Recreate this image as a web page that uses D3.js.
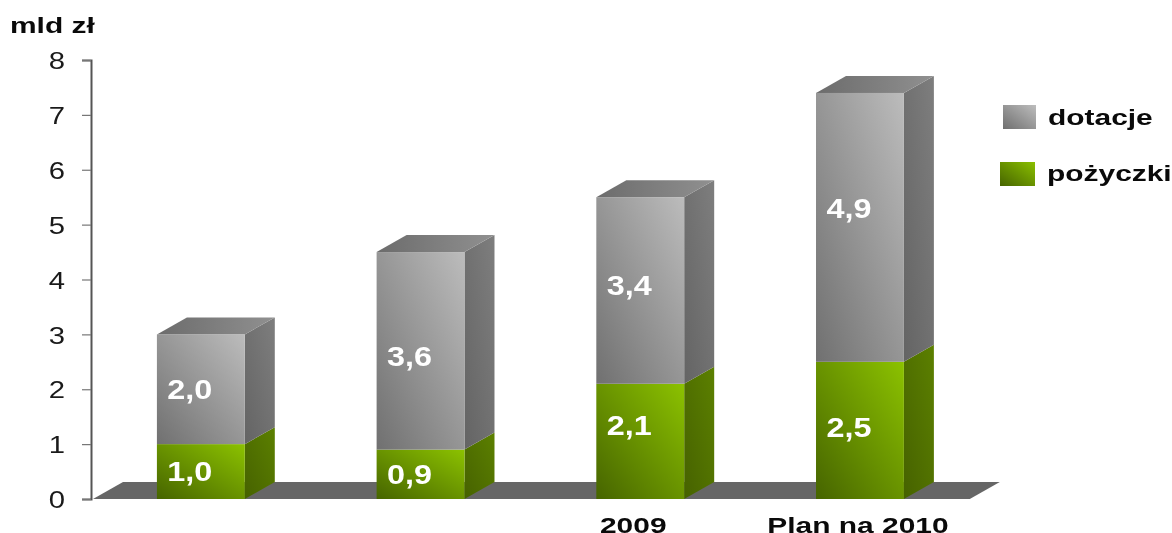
<!DOCTYPE html>
<html><head><meta charset="utf-8">
<script src="https://cdn.jsdelivr.net/npm/d3@7/dist/d3.min.js"></script>
<style>html,body{margin:0;padding:0;background:#fff}svg{display:block;filter:blur(.55px)}text{font-family:"Liberation Sans",Arial,sans-serif}</style>
</head><body><svg id="c" width="1172" height="533"></svg>
<script>
const categories = ["", " ", "2009", "Plan na 2010"];
const pozyczki = [1.0, 0.9, 2.1, 2.5];
const dotacje = [2.0, 3.6, 3.4, 4.9];
const pozyczkiLabels = ["1,0", "0,9", "2,1", "2,5"];
const dotacjeLabels = ["2,0", "3,6", "3,4", "4,9"];
const stackTotals = [3.0, 4.5, 5.5, 7.4];
const yTicks = [0, 1, 2, 3, 4, 5, 6, 7, 8];
const seriesNames = ["dotacje", "pożyczki"];
const unitLabel = "mld zł";

// layout only
const pozNudge = [0.0, 0.0, 0.3, 0.05];
const dotNudge = [0.0, -0.09, 0.09, 0.34];
const dx = 30, dy = 17;

const svg = d3.select("#c");
const x = d3.scaleBand().domain(categories).range([91, 969.8]).paddingInner(0.6).paddingOuter(0.3);
const y = d3.scaleLinear().domain([0, 8]).range([499, 60]);
const defs = svg.append("defs");
function grad(id, c0, c1, x1=0, y1=1, x2=1, y2=0) {
  const g = defs.append("linearGradient").attr("id", id).attr("x1", x1).attr("y1", y1).attr("x2", x2).attr("y2", y2);
  g.append("stop").attr("offset", 0).attr("stop-color", c0);
  g.append("stop").attr("offset", 1).attr("stop-color", c1);
}
grad("gf", "#707070", "#bcbcbc");
grad("gs", "#646464", "#7e7e7e");
grad("gt", "#6c6c6c", "#909090", 0, 0, 1, 0);
grad("pf", "#466400", "#8cc200");
grad("ps", "#466200", "#5c8000");
grad("lg", "#6f6f6f", "#bdbdbd");
grad("lp", "#466400", "#8abf00");

const line = d3.line();
// floor
const x0 = x.range()[0] + 2, x1 = x.range()[1];
svg.append("path").attr("fill", "#666666")
  .attr("d", line([[x0, y(0)], [x0 + dx, y(0) - dy], [x1 + dx, y(0) - dy], [x1, y(0)]]) + "Z");

// axis
const axis = d3.axisLeft(y).tickValues(yTicks).tickSize(9).tickPadding(0).tickFormat(d3.format("d"));
const ag = svg.append("g").attr("transform", `translate(${x.range()[0]},0)`).call(axis);
ag.select(".domain").attr("stroke", "#555").attr("stroke-width", 2);
ag.selectAll(".tick line").attr("stroke", "#777").attr("stroke-width", 1.2);
ag.selectAll(".tick text").attr("x", 0).attr("dy", "0.36em").attr("fill", "#1a1a1a").attr("font-size", 24)
  .attr("font-family", '"Liberation Sans",Arial,sans-serif')
  .attr("transform", `translate(-26,0) scale(1.22,1)`);

// bars
categories.forEach((c, i) => {
  const L = x(c), R = L + x.bandwidth(), y0 = y(0), ym = y(pozyczki[i]), yt = y(stackTotals[i]);
  const g = svg.append("g");
  g.append("path").attr("fill", "url(#ps)").attr("d", line([[R, y0], [R + dx, y0 - dy], [R + dx, ym - dy], [R, ym]]) + "Z");
  g.append("path").attr("fill", "url(#gs)").attr("d", line([[R, ym], [R + dx, ym - dy], [R + dx, yt - dy], [R, yt]]) + "Z");
  g.append("path").attr("fill", "url(#gt)").attr("d", line([[L, yt], [L + dx, yt - dy], [R + dx, yt - dy], [R, yt]]) + "Z");
  g.append("rect").attr("x", L).attr("y", ym).attr("width", x.bandwidth()).attr("height", y0 - ym).attr("fill", "url(#pf)");
  g.append("rect").attr("x", L).attr("y", yt).attr("width", x.bandwidth()).attr("height", ym - yt).attr("fill", "url(#gf)");
});

// value labels
function val(cx, cy, t) {
  svg.append("text").attr("transform", `translate(${cx},${cy}) scale(1.2,1)`)
    .attr("text-anchor", "middle").attr("dy", "0.36em").attr("fill", "#fff").attr("font-weight", 700).attr("font-size", 27).text(t);
}
categories.forEach((c, i) => {
  const cx = x(c) + x.bandwidth() / 2 - 11;
  val(cx, y(pozyczki[i] / 2 + pozNudge[i]), pozyczkiLabels[i]);
  val(cx, y(pozyczki[i] + (stackTotals[i] - pozyczki[i]) / 2 + dotNudge[i]), dotacjeLabels[i]);
});

function bold(px, py, t, fs, anchor) {
  svg.append("text").attr("transform", `translate(${px},${py}) scale(1.36,1)`)
    .attr("text-anchor", anchor).attr("dy", "0.36em").attr("fill", "#0a0a0a").attr("font-weight", 700).attr("font-size", fs).text(t);
}
// category labels
categories.forEach(c => { if (c.trim()) bold(x(c) + x.bandwidth() / 2 - (c === "2009" ? 7 : 2), 525, c, 22, "middle"); });
// unit
bold(10, 25, unitLabel, 22, "start");
// legend
svg.append("rect").attr("x", 1003).attr("y", 105).attr("width", 33).attr("height", 24).attr("fill", "url(#lg)");
svg.append("rect").attr("x", 1000).attr("y", 162).attr("width", 35).attr("height", 24).attr("fill", "url(#lp)");
bold(1048, 117, seriesNames[0], 22, "start");
bold(1047, 173, seriesNames[1], 22, "start");
</script></body></html>
